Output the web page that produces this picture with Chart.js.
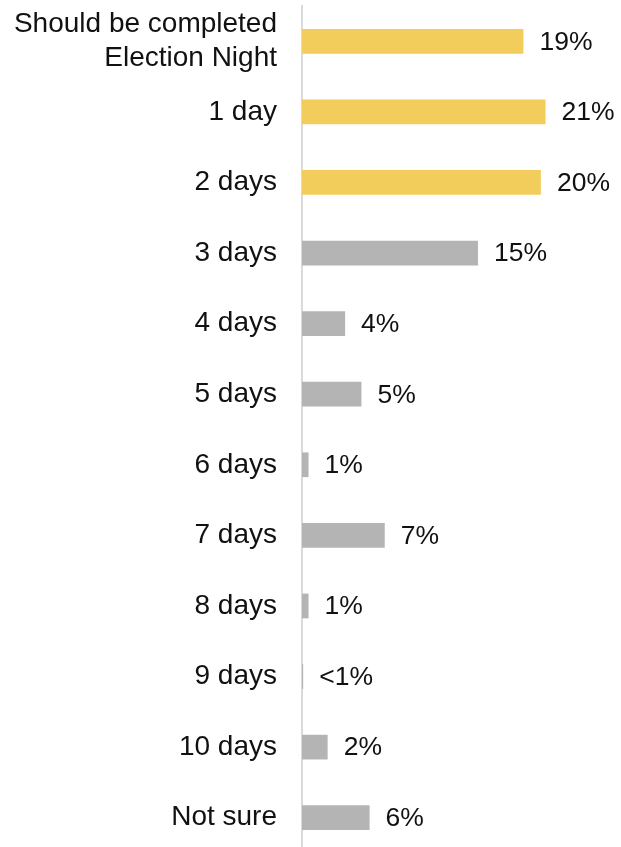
<!DOCTYPE html>
<html>
<head>
<meta charset="utf-8">
<script src="https://cdn.jsdelivr.net/npm/chart.js@4"></script>
<style>
  html, body { margin: 0; padding: 0; background: #fff; overflow: hidden; }
  #wrap { width: 621px; height: 860px; }
</style>
</head>
<body>
<div id="wrap"><canvas id="bar_chart_days" width="621" height="860"></canvas></div>
<script>
var categories = [
    ['Should be completed', 'Election Night'], '1 day', '2 days', '3 days', '4 days', '5 days',
    '6 days', '7 days', '8 days', '9 days', '10 days', 'Not sure'
];
var shares = [19.0, 20.9, 20.5, 15.1, 3.7, 5.1, 0.56, 7.1, 0.56, 0.1, 2.2, 5.8];
var valueLabels = ['19%', '21%', '20%', '15%', '4%', '5%', '1%', '7%', '1%', '<1%', '2%', '6%'];
var barColors = [
    '#f2cd5c', '#f2cd5c', '#f2cd5c', '#b4b4b4', '#b4b4b4', '#b4b4b4',
    '#b4b4b4', '#b4b4b4', '#b4b4b4', '#b4b4b4', '#b4b4b4', '#b4b4b4'
];

document.addEventListener("DOMContentLoaded", function() {
    var ctx = document.getElementById('bar_chart_days').getContext('2d');

    // value text at the end of each bar
    var endLabels = {
        id: 'endLabels',
        afterDatasetsDraw: function(chart) {
            var c = chart.ctx;
            var meta = chart.getDatasetMeta(0);
            c.save();
            c.font = '26.5px "Liberation Sans", Arial, sans-serif';
            c.fillStyle = '#111';
            c.textAlign = 'left';
            c.textBaseline = 'middle';
            meta.data.forEach(function(bar, i) {
                c.fillText(valueLabels[i], bar.x + 16, bar.y + 1);
            });
            c.restore();
        }
    };

    new Chart(ctx, {
        type: 'bar',
        data: {
            labels: categories,
            datasets: [{
                data: shares,
                backgroundColor: barColors,
                borderWidth: 0,
                barPercentage: 0.35,
                categoryPercentage: 1
            }]
        },
        options: {
            indexAxis: 'y',
            responsive: false,
            animation: false,
            layout: { autoPadding: false, padding: { top: 6, bottom: 7, left: 0, right: 16 } },
            plugins: {
                legend: { display: false },
                tooltip: { enabled: false }
            },
            scales: {
                x: {
                    display: false,
                    min: 0,
                    max: 26
                },
                y: {
                    grid: { display: false },
                    border: { display: true, color: '#dadada', width: 2 },
                    ticks: {
                        color: '#111',
                        padding: 17,
                        font: { family: '"Liberation Sans", Arial, sans-serif', size: 28, lineHeight: 1.18 }
                    },
                    afterFit: function(scale) {
                        scale.width = 302;
                        scale.paddingTop = 0;
                        scale.paddingBottom = 0;
                    }
                }
            }
        },
        plugins: [endLabels]
    });
});
</script>
</body>
</html>
